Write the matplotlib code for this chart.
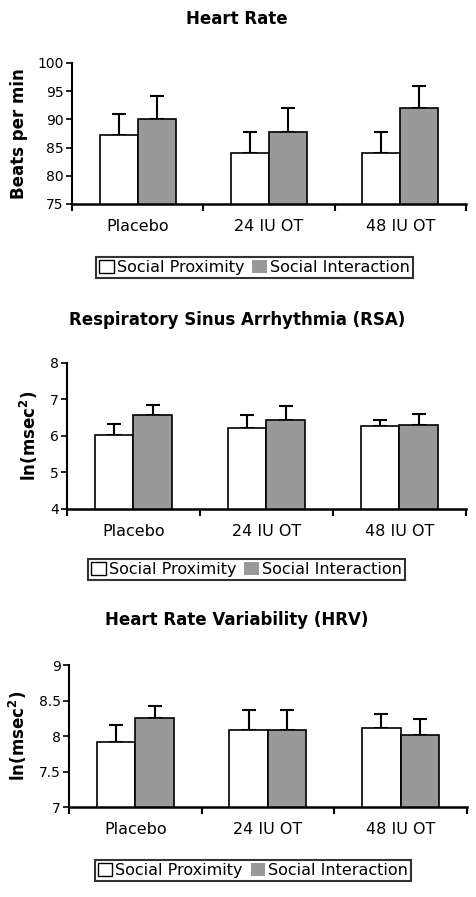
import matplotlib.pyplot as plt
import numpy as np
from matplotlib.patches import Patch

groups = ["Placebo", "24 IU OT", "48 IU OT"]
series = ["Social Proximity", "Social Interaction"]

hr_prox = [87.2, 84.0, 84.0]
hr_prox_err = [3.7, 3.7, 3.7]
hr_inter = [90.0, 87.8, 92.1]
hr_inter_err = [4.2, 4.2, 3.9]

rsa_prox = [6.02, 6.23, 6.27]
rsa_prox_err = [0.30, 0.35, 0.18]
rsa_inter = [6.57, 6.45, 6.30]
rsa_inter_err = [0.29, 0.37, 0.30]

hrv_prox = [7.91, 8.08, 8.12]
hrv_prox_err = [0.25, 0.29, 0.19]
hrv_inter = [8.25, 8.08, 8.02]
hrv_inter_err = [0.17, 0.29, 0.22]

panels = [
    dict(title="Heart Rate", ylabel="Beats per min", ylim=(75, 100), yticks=[75, 80, 85, 90, 95, 100],
         ytl=["75", "80", "85", "90", "95", "100"],
         a=hr_prox, ae=hr_prox_err, b=hr_inter, be=hr_inter_err,
         rect=[0.151, 0.7726, 0.826, 0.1572], title_y=19 / 897, leg=(254, 281, 98, 411)),
    dict(title="Respiratory Sinus Arrhythmia (RSA)", ylabel="ln(msec$^\\mathbf{2}$)", ylim=(4, 8),
         yticks=[4, 5, 6, 7, 8], ytl=["4", "5", "6", "7", "8"],
         a=rsa_prox, ae=rsa_prox_err, b=rsa_inter, be=rsa_inter_err,
         rect=[0.1405, 0.4326, 0.836, 0.1628], title_y=320 / 897, leg=(556, 583, 90, 403)),
    dict(title="Heart Rate Variability (HRV)", ylabel="ln(msec$^\\mathbf{2}$)", ylim=(7, 9),
         yticks=[7, 7.5, 8, 8.5, 9], ytl=["7", "7.5", "8", "8.5", "9"],
         a=hrv_prox, ae=hrv_prox_err, b=hrv_inter, be=hrv_inter_err,
         rect=[0.1447, 0.1003, 0.834, 0.1583], title_y=620 / 897, leg=(857, 884, 97, 409)),
]

W, H = 477, 897
fig = plt.figure(figsize=(W / 100, H / 100), dpi=100)
grey = "#999999"
x = np.arange(len(groups))
w = 0.29

for p in panels:
    ax = fig.add_axes(p["rect"])
    ax.bar(x - w / 2, p["a"], w, color="white", edgecolor="black", linewidth=1.2, zorder=2)
    ax.bar(x + w / 2, p["b"], w, color=grey, edgecolor="black", linewidth=1.2, zorder=2)
    ax.errorbar(x - w / 2, p["a"], yerr=[np.zeros(3), p["ae"]], fmt="none", ecolor="black",
                elinewidth=1.5, capsize=5, capthick=1.5, zorder=1)
    ax.errorbar(x + w / 2, p["b"], yerr=[np.zeros(3), p["be"]], fmt="none", ecolor="black",
                elinewidth=1.5, capsize=5, capthick=1.5, zorder=1)
    ax.set_ylim(*p["ylim"])
    ax.set_xlim(-0.5, 2.5)
    ax.set_yticks(p["yticks"])
    ax.set_yticklabels(p["ytl"], fontsize=10)
    ax.set_xticks([-0.5, 0.5, 1.5, 2.5])
    ax.set_xticklabels([])
    ax.set_xticks(x, minor=True)
    ax.set_xticklabels(groups, minor=True, fontsize=11.5)
    ax.tick_params(axis="x", which="minor", length=0, pad=11)
    ax.tick_params(axis="x", which="major", length=5, width=1.5, direction="out")
    ax.tick_params(axis="y", length=4, width=1.2, direction="out", pad=2)
    for s in ["top", "right"]:
        ax.spines[s].set_visible(False)
    ax.spines["left"].set_linewidth(1.5)
    ax.spines["bottom"].set_linewidth(1.8)
    ax.set_ylabel(p["ylabel"], fontsize=12, fontweight="bold", labelpad=7)
    fig.text(0.497, 1 - p["title_y"], p["title"], ha="center", va="center",
             fontsize=12, fontweight="bold")
    top, bot, l, r = p["leg"]
    handles = [Patch(facecolor="white", edgecolor="black", linewidth=1),
               Patch(facecolor=grey, edgecolor="black", linewidth=0)]
    leg = fig.legend(handles, series, loc="center", bbox_to_anchor=((l + r) / 2 / W, 1 - (top + bot) / 2 / H),
                     ncol=2, frameon=True, fancybox=False, fontsize=11.5, handlelength=0.9,
                     handleheight=0.9, handletextpad=0.2, columnspacing=0.5, borderpad=0.2)
    leg.get_frame().set_edgecolor("black")
    leg.get_frame().set_linewidth(1.5)

fig.savefig("out.png", dpi=100)
